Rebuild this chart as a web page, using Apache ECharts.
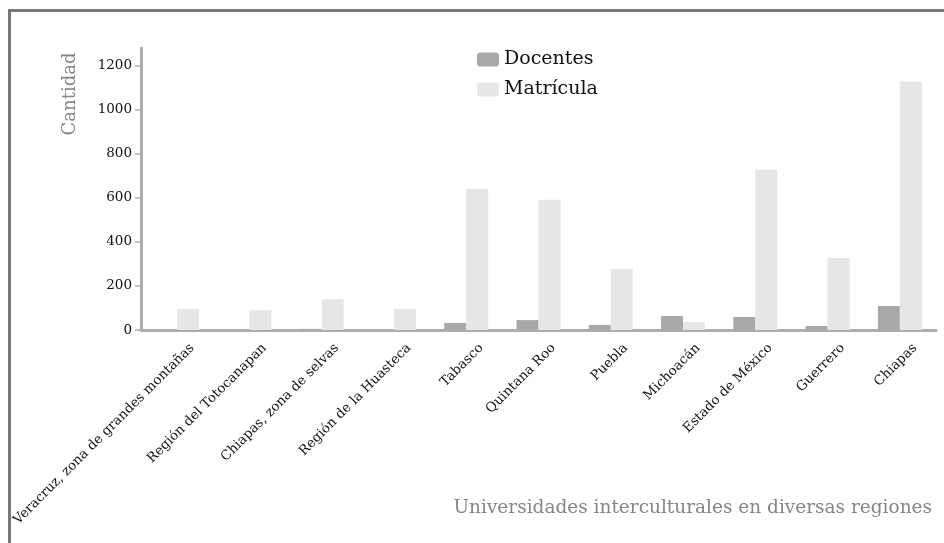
<!DOCTYPE html>
<html><head><meta charset="utf-8">
<script src="https://cdn.jsdelivr.net/npm/echarts@6/dist/echarts.min.js"></script>
<style>html,body{margin:0;padding:0;background:#fff}#c{width:944px;height:543px}</style>
</head><body><div id="c"></div>
<script>
const categories = ["Veracruz, zona de grandes montañas","Región del Totocanapan","Chiapas, zona de selvas","Región de la Huasteca","Tabasco","Quintana Roo","Puebla","Michoacán","Estado de México","Guerrero","Chiapas"];
const docentes = [0, 0, 5, 0, 32, 45, 23, 64, 59, 18, 109];
const matricula = [95, 90, 140, 95, 641, 591, 277, 36, 727, 327, 1127];
const yTicks = [0, 200, 400, 600, 800, 1000, 1200];
const seriesNames = ["Docentes", "Matrícula"];
const yName = "Cantidad";
const xName = "Universidades interculturales en diversas regiones";

const FONT = "DejaVu Serif";
const chart = echarts.init(document.getElementById('c'));
const baseGraphic = [
  {type: 'rect', shape: {x: 8, y: 9, width: 936, height: 3}, style: {fill: '#787878'}},
  {type: 'rect', shape: {x: 8, y: 9, width: 3, height: 534}, style: {fill: '#787878'}},
  {type: 'text', x: 70, y: 94, rotation: Math.PI/2, style: {text: yName, fontFamily: FONT, fontSize: 18, fill: '#858585', align: 'center', verticalAlign: 'middle'}},
  {type: 'text', x: 932, y: 508, style: {text: xName, fontFamily: FONT, fontSize: 18.5, fill: '#858585', align: 'right', verticalAlign: 'middle'}}
];
chart.setOption({
  animation: false,
  backgroundColor: '#fff',
  textStyle: {fontFamily: FONT},
  legend: {
    orient: 'vertical', left: 472, top: 45, itemWidth: 22, itemHeight: 14, itemGap: 11,
    textStyle: {fontFamily: FONT, fontSize: 19, color: '#111'},
    data: seriesNames
  },
  grid: {left: 141, right: 8, top: 48, bottom: 213, containLabel: false},
  xAxis: {
    type: 'category', data: categories,
    axisLine: {lineStyle: {color: '#acadaf', width: 3}},
    axisTick: {show: false},
    axisLabel: {show: false}
  },
  yAxis: {
    type: 'value', min: 0, max: 1280,
    axisLine: {show: true, lineStyle: {color: '#acadaf', width: 3}},
    axisTick: {show: true, length: 6, lineStyle: {color: '#acadaf', width: 1.5}, customValues: yTicks},
    axisLabel: {fontFamily: FONT, fontSize: 13.5, color: '#111', margin: 9, customValues: yTicks, formatter: v => String(v)},
    splitLine: {show: false}
  },
  series: [
    {name: seriesNames[0], type: 'bar', data: docentes, barWidth: 22, barGap: '0%', itemStyle: {color: '#a7a8aa'}},
    {name: seriesNames[1], type: 'bar', data: matricula, barWidth: 22, barGap: '0%', itemStyle: {color: '#e5e6e8'}}
  ],
  graphic: baseGraphic
});
// Category labels placed through the axis scale
const labelGraphic = categories.map((c, i) => {
  const p = chart.convertToPixel({xAxisIndex: 0, yAxisIndex: 0}, [i, 0]);
  return {type: 'text', x: p[0] + 15, y: p[1] + 16, rotation: Math.PI / 4,
    style: {text: c, fontFamily: FONT, fontSize: 13.3, fill: '#111', align: 'right', verticalAlign: 'middle'}};
});
chart.setOption({graphic: baseGraphic.concat(labelGraphic)}, {replaceMerge: ['graphic']});
</script></body></html>
